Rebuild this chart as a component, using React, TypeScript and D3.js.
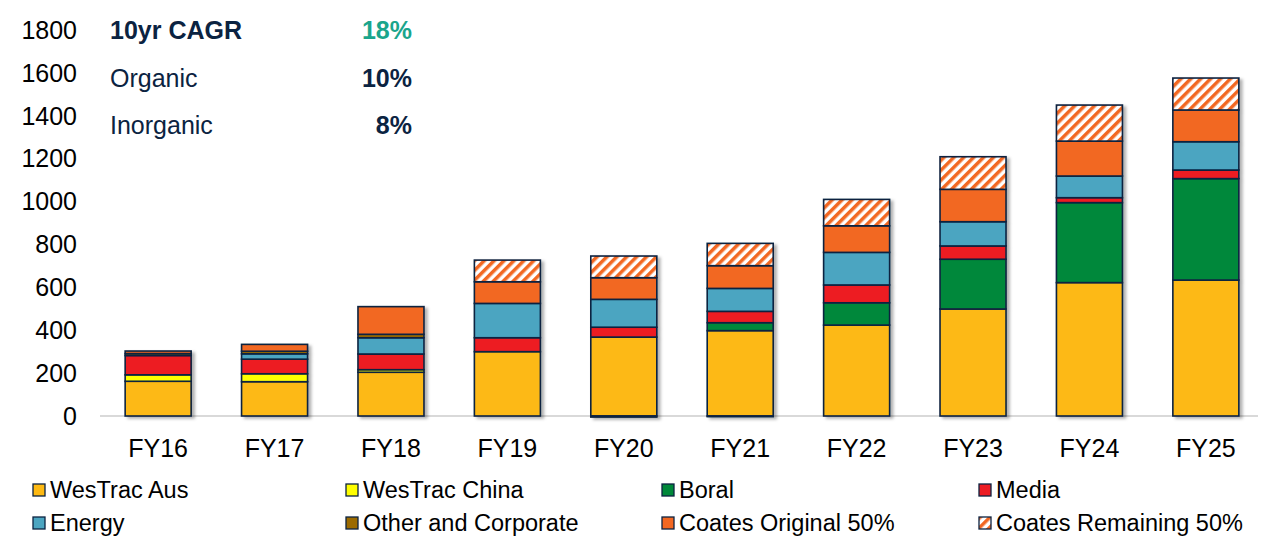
import React from "react";
import * as d3 from "d3";

const years = ["FY16", "FY17", "FY18", "FY19", "FY20", "FY21", "FY22", "FY23", "FY24", "FY25"];
const seriesNames = ["WesTrac Aus", "WesTrac China", "Boral", "Media", "Energy", "Other and Corporate", "Coates Original 50%", "Coates Remaining 50%"];
const westracAus = [162, 160, 204, 300, 368, 398, 424, 499, 622, 634];
const westracChina = [30, 37, 12, 0, 0, 0, 0, 0, 0, 0];
const boral = [0, 0, 0, 0, 0, 37, 104, 232, 373, 473];
const media = [90, 68, 73, 65, 46, 53, 83, 62, 23, 40];
const energy = [0, 25, 76, 160, 130, 107, 152, 113, 101, 132];
const otherCorporate = [9, 12, 16, 0, -5, -3, 0, 0, 0, 0];
const coatesOriginal = [12, 32, 129, 101, 101, 106, 124, 151, 163, 148];
const coatesRemaining = [0, 0, 0, 101, 101, 104, 123, 152, 168, 149];
const yTicks = [0, 200, 400, 600, 800, 1000, 1200, 1400, 1600, 1800];
const cagrLabels = ["10yr CAGR", "Organic", "Inorganic"];
const cagrValues = ["18%", "10%", "8%"];

const seriesValues = [westracAus, westracChina, boral, media, energy, otherCorporate, coatesOriginal, coatesRemaining];
const colors = ["#FDB913", "#FFFF00", "#00883A", "#ED1C24", "#4BA5C1", "#9C6B00", "#F26722", "url(#hatch)"];
const navy = "#0B2341";
const font = "'Liberation Sans', Arial, sans-serif";

export default function App() {
  const W = 1263, H = 545;
  const x = d3.scaleBand<string>().domain(years).range([100, 1264]).paddingInner(0.433).paddingOuter(0.216);
  const y = d3.scaleLinear().domain([0, 1800]).range([416, 30]);
  const rows = years.map((yr, i) => {
    const r: any = { year: yr };
    seriesNames.forEach((s, k) => (r[s] = seriesValues[k][i]));
    return r;
  });
  const stacked = d3.stack<any>().keys(seriesNames).offset(d3.stackOffsetDiverging)(rows);

  const legendCols = [33, 346, 662, 979];
  const legendRows = [490, 523];

  return (
    <div style={{ position: "absolute", left: 0, top: 0 }}>
      <svg width={W} height={H} style={{ display: "block", background: "#fff" }}>
        <defs>
          <pattern id="hatch" patternUnits="userSpaceOnUse" width="7" height="7" patternTransform="rotate(45)">
            <rect width="7" height="7" fill="#fff" />
            <rect width="3.5" height="7" fill="#F26722" />
          </pattern>
          <filter id="shadow" x="-20%" y="-20%" width="140%" height="140%">
            <feDropShadow dx="3" dy="2" stdDeviation="1.8" floodColor="#000" floodOpacity="0.3" />
          </filter>
        </defs>

        {yTicks.map((t) => (
          <text key={t} x={77} y={y(t)} dy="0.35em" textAnchor="end" fontFamily={font} fontSize={25} fill="#000">
            {t}
          </text>
        ))}

        <line x1={100} x2={1258} y1={y(0)} y2={y(0)} stroke="#D9D9D9" strokeWidth={2} />

        {years.map((yr, i) => (
          <g key={yr} filter="url(#shadow)">
            {stacked.map((layer, k) => {
              const d = layer[i];
              const v = seriesValues[k][i];
              if (!v) return null;
              const y0 = y(Math.max(d[0], d[1]));
              const y1 = y(Math.min(d[0], d[1]));
              return (
                <rect
                  key={k}
                  x={x(yr)}
                  y={y0}
                  width={x.bandwidth()}
                  height={Math.max(0.5, y1 - y0)}
                  fill={colors[k]}
                  stroke={navy}
                  strokeWidth={1.6}
                />
              );
            })}
          </g>
        ))}

        {years.map((yr) => (
          <text key={yr} x={(x(yr) as number) + x.bandwidth() / 2} y={457} textAnchor="middle" fontFamily={font} fontSize={25} fill="#000">
            {yr}
          </text>
        ))}

        {cagrLabels.map((l, i) => (
          <g key={l}>
            <text x={110} y={39 + i * 47.5} fontFamily={font} fontSize={25} fontWeight={i === 0 ? "bold" : "normal"} fill={navy}>
              {l}
            </text>
            <text x={412} y={39 + i * 47.5} textAnchor="end" fontFamily={font} fontSize={25} fontWeight="bold" fill={i === 0 ? "#1AA58C" : navy}>
              {cagrValues[i]}
            </text>
          </g>
        ))}

        {seriesNames.map((s, k) => {
          const cx = legendCols[k % 4];
          const cy = legendRows[Math.floor(k / 4)];
          return (
            <g key={s}>
              <rect x={cx} y={cy - 6} width={12} height={12} fill={colors[k]} stroke={navy} strokeWidth={1.3} />
              <text x={cx + 17} y={cy} dy="0.36em" fontFamily={font} fontSize={23.5} fill="#000">
                {s}
              </text>
            </g>
          );
        })}
      </svg>
    </div>
  );
}
